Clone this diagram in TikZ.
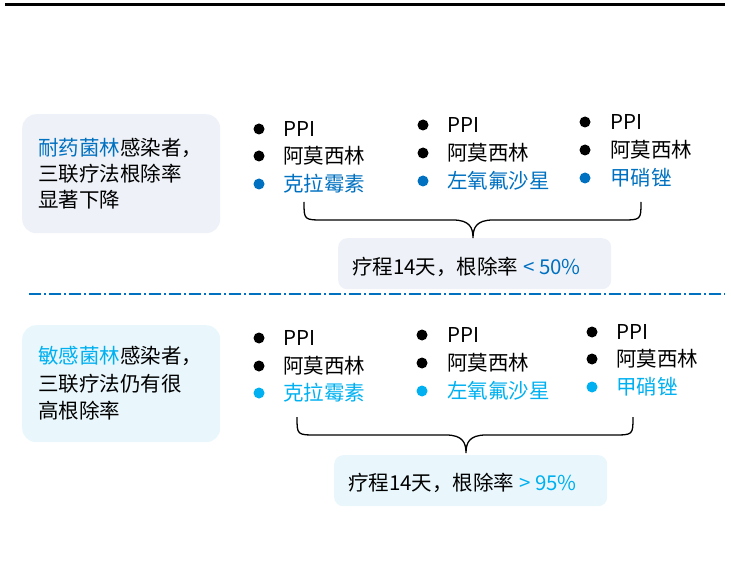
\documentclass[tikz,border=0pt]{standalone}
\usepackage{fontspec}
\setmainfont{Noto Sans CJK SC}
\definecolor{blueA}{HTML}{0070C0}
\definecolor{blueB}{HTML}{00B0F0}
\definecolor{fillA}{HTML}{EEF2F8}
\definecolor{fillB}{HTML}{E9F7FC}
\begin{document}
\begin{tikzpicture}[x=1pt,y=-1pt,
  txt/.style={anchor=west, inner sep=0pt, font=\fontsize{20.5}{24}\selectfont},
  dotk/.style={circle, fill=black, inner sep=0pt, minimum size=11pt},
  dotA/.style={circle, fill=blueA, inner sep=0pt, minimum size=11pt},
  dotB/.style={circle, fill=blueB, inner sep=0pt, minimum size=11pt},
  panel/.style={anchor=north west, inner sep=0pt, rounded corners=14pt},
  resbox/.style={anchor=north west, inner sep=0pt, rounded corners=9pt},
  brace/.style={draw=black, line width=1.3pt}]
\useasboundingbox (0,0) rectangle (731,588);
% top rule
\coordinate (rl) at (5,5);
\coordinate (rr) at (725,5);
\draw[line width=3pt] (rl) -- (rr);
% ===== upper section =====
\node[panel, fill=fillA, minimum width=198pt, minimum height=119pt] (p1) at (22,114) {};
\node[txt] (p1a) at (38,148) {{\color{blueA}耐药菌林}感染者，};
\node[txt] (p1b) at (38,174) {三联疗法根除率};
\node[txt] (p1c) at (38,200) {显著下降};
% column 1
\node[dotk] (u1d1) at (259,129) {};
\node[txt] (u1t1) at (283,129) {PPI};
\node[dotk] (u1d2) at (259,156) {};
\node[txt] (u1t2) at (283,156) {阿莫西林};
\node[dotA] (u1d3) at (259,184) {};
\node[txt, text=blueA] (u1t3) at (283,184) {克拉霉素};
% column 2
\node[dotk] (u2d1) at (423,125) {};
\node[txt] (u2t1) at (447,125) {PPI};
\node[dotk] (u2d2) at (423,153) {};
\node[txt] (u2t2) at (447,153) {阿莫西林};
\node[dotA] (u2d3) at (423,181) {};
\node[txt, text=blueA] (u2t3) at (447,181) {左氧氟沙星};
% column 3
\node[dotk] (u3d1) at (585,122) {};
\node[txt] (u3t1) at (610,122) {PPI};
\node[dotk] (u3d2) at (585,150) {};
\node[txt] (u3t2) at (610,150) {阿莫西林};
\node[dotA] (u3d3) at (585,178) {};
\node[txt, text=blueA] (u3t3) at (610,178) {甲硝锉};
% result box
\node[resbox, fill=fillA, minimum width=273pt, minimum height=51pt] (r1) at (338,238) {};
\node[txt] (r1t) at (352,267) {疗程14天，根除率 {\color{blueA}< 50\%}};
% brace
\coordinate (b1l) at (304,202);
\coordinate (b1r) at (641,202);
\draw[brace] (b1l) .. controls (304,220) .. (324,220) -- (453,220)
  .. controls (470,220) and (473,228) .. (r1.north -| 473,238)
  .. controls (473,228) and (476,220) .. (493,220) -- (621,220)
  .. controls (641,220) .. (b1r);
% separator
\coordinate (sl) at (29,294);
\coordinate (sr) at (725,294);
\draw[blueA, line width=1.3pt, dash pattern=on 12pt off 3pt on 2pt off 3pt] (sl) -- (sr);
% ===== lower section =====
\node[panel, fill=fillB, minimum width=198pt, minimum height=117pt] (p2) at (22,325) {};
\node[txt] (p2a) at (38,356) {{\color{blueB}敏感菌林}感染者，};
\node[txt] (p2b) at (38,384) {三联疗法仍有很};
\node[txt] (p2c) at (38,411) {高根除率};
% column 1
\node[dotk] (l1d1) at (259,338) {};
\node[txt] (l1t1) at (283,338) {PPI};
\node[dotk] (l1d2) at (259,366) {};
\node[txt] (l1t2) at (283,366) {阿莫西林};
\node[dotB] (l1d3) at (259,393) {};
\node[txt, text=blueB] (l1t3) at (283,393) {克拉霉素};
% column 2
\node[dotk] (l2d1) at (422,335) {};
\node[txt] (l2t1) at (447,335) {PPI};
\node[dotk] (l2d2) at (422,363) {};
\node[txt] (l2t2) at (447,363) {阿莫西林};
\node[dotB] (l2d3) at (422,391) {};
\node[txt, text=blueB] (l2t3) at (447,391) {左氧氟沙星};
% column 3
\node[dotk] (l3d1) at (592,332) {};
\node[txt] (l3t1) at (616,332) {PPI};
\node[dotk] (l3d2) at (592,359) {};
\node[txt] (l3t2) at (616,359) {阿莫西林};
\node[dotB] (l3d3) at (592,387) {};
\node[txt, text=blueB] (l3t3) at (616,387) {甲硝锉};
% result box
\node[resbox, fill=fillB, minimum width=273pt, minimum height=51pt] (r2) at (334,455) {};
\node[txt] (r2t) at (348,483) {疗程14天，根除率 {\color{blueB}> 95\%}};
% brace
\coordinate (b2l) at (297,417);
\coordinate (b2r) at (633,417);
\draw[brace] (b2l) .. controls (297,435) .. (317,435) -- (446,435)
  .. controls (463,435) and (466,443) .. (466,453)
  .. controls (466,443) and (469,435) .. (486,435) -- (613,435)
  .. controls (633,435) .. (b2r);
\end{tikzpicture}
\end{document}
